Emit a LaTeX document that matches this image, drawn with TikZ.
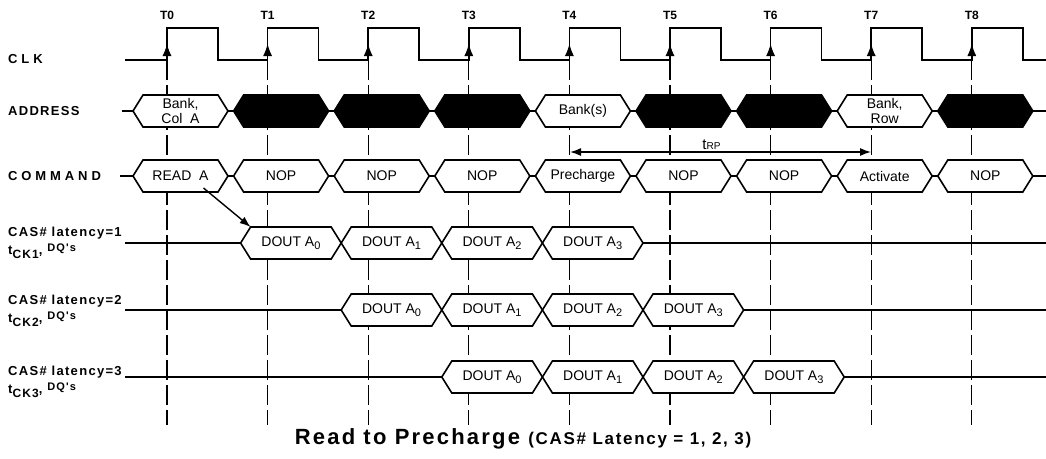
\documentclass[tikz,border=0pt]{standalone}
\usepackage{fontspec}
\setmainfont{Liberation Sans}
\newfontfamily\lblfont[LetterSpace=10]{Liberation Sans}
\newfontfamily\lblwide[LetterSpace=30]{Liberation Sans}
\usetikzlibrary{arrows.meta,calc}

% one bus period: name, left x, right x, centre y, fill, text
\newcommand\busseg[6]{%
  \path[bus,fill=#5] (#2,#4) -- (#2+10,#4-16) -- (#3-10,#4-16) -- (#3,#4)
    -- (#3-10,#4+16) -- (#2+10,#4+16) -- cycle;
  \coordinate (#1-nw) at (#2+10,#4-16);
  \node[txt] (#1) at ({(#2+#3)/2},#4) {#6};}
\newcommand\lowsub[1]{\raisebox{-3.5pt}{\fontsize{11}{11}\selectfont #1}}

\begin{document}
\begin{tikzpicture}[x=1pt,y=-1pt,>={Latex[length=11pt,width=8pt]},
    sig/.style={line width=1.6pt},
    tline/.style={line width=1.1pt,dash pattern=on 20pt off 5pt},
    bus/.style={draw,line width=1.6pt,line join=miter},
    txt/.style={font=\fontsize{14}{15}\selectfont,inner sep=0pt,align=center},
    lbl/.style={anchor=west,inner sep=0pt,font=\lblfont\bfseries\fontsize{13}{15}\selectfont},
    lblw/.style={lbl,font=\lblwide\bfseries\fontsize{13}{15}\selectfont},
    tlbl/.style={font=\bfseries\fontsize{12}{13}\selectfont}]
  \useasboundingbox (0,0) rectangle (1046,458);

  % time lines
  \foreach \n in {0,...,8}
    \draw[tline] ({167+100.6*\n},60) -- ({167+100.6*\n},425);

  % clock
  \draw[sig] (125,60) foreach \n in {0,...,8} {
      -- ({167+100.6*\n},60) -- ({167+100.6*\n},28)
      -- ({218+100.6*\n},28) -- ({218+100.6*\n},60)} -- (1046,60);
  \foreach \n in {0,...,8} {
    \node[tlbl] (T\n) at ({167+100.6*\n},15) {T\n};
    \draw[-{Latex[length=12pt,width=9pt]},line width=1pt] ({167+100.6*\n},58) -- ({167+100.6*\n},44);
  }

  % address
  \draw[sig] (122,111) -- (1046,111);
  \foreach \n/\f/\s [evaluate=\n as \t using 167+100.6*\n] in
      {0/white/{Bank,\\Col\ \ A},1/black/,2/black/,3/black/,4/white/Bank(s),
       5/black/,6/black/,7/white/{Bank,\\Row},8/black/}
    \busseg{ad\n}{\t-34}{\t+61}{111}{\f}{\s};

  % command
  \draw[sig] (120,176) -- (1046,176);
  \foreach \n/\s [evaluate=\n as \t using 167+100.6*\n] in
      {0/READ\ \ A,1/NOP,2/NOP,3/NOP,4/Precharge,5/NOP,6/NOP,7/Activate,8/NOP}
    \busseg{cm\n}{\t-34}{\t+61}{176}{white}{\s};

  % data out, CAS latency 1..3
  \foreach \k/\y in {1/243,2/310,3/377} {
    \draw[sig] (125,\y) -- (1046,\y);
    \foreach \i [evaluate=\i as \t using 167+100.6*(\k+\i)] in {0,...,3}
      \busseg{dq\k-\i}{\t-27}{\t+73.6}{\y}{white}{DOUT A\lowsub{\i}};
  }

  % labels
  \node[lblw] (clk) at (8,59) {CLK};
  \node[lbl] (addr) at (8,111) {ADDRESS};
  \node[lblw] (cmd) at (8,176) {COMMAND};
  \foreach \k/\y in {1/233,2/301,3/372} {
    \node[lbl] (cas\k) at (8,\y) {CAS\# latency=\k};
    \node[lbl,anchor=base west] (tck\k) at (8,\y+21)
      {t\raisebox{-4pt}{\fontsize{12}{12}\selectfont CK\k}, \raisebox{3pt}{\fontsize{11}{11}\selectfont DQ's}};
  }

  % tRP
  \coordinate (rpa) at (570,152);
  \coordinate (rpb) at (871,152);
  \draw[<->,line width=1.4pt] (rpa) -- node[pos=0.47,above=2pt,inner sep=0pt,font=\fontsize{15}{15}\selectfont]
    {t{\fontsize{10}{10}\selectfont RP}} (rpb);

  % read to first data
  \draw[->,line width=1.4pt] ($(cm0)+(23,12)$) -- (dq1-0-nw);

  \node[anchor=base,font=\lblfont\bfseries\fontsize{22}{24}\selectfont] (ttl) at (523,444)
    {Read to Precharge {\fontsize{17}{17}\selectfont (CAS\# Latency = 1, 2, 3)}};
\end{tikzpicture}
\end{document}
